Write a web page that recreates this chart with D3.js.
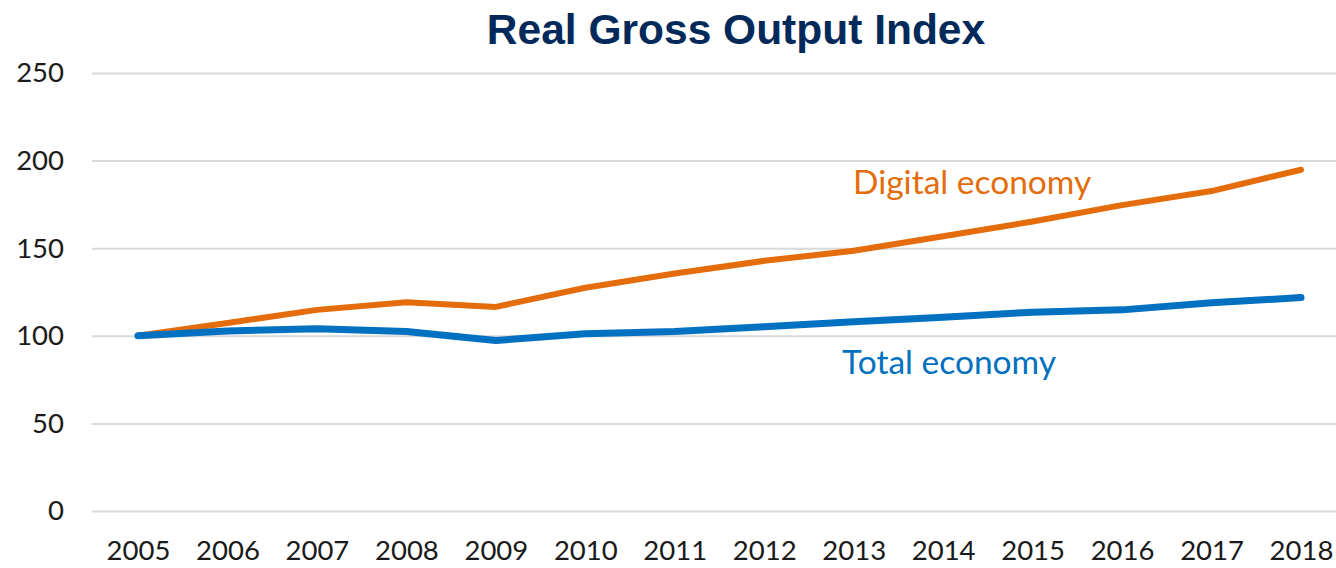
<!DOCTYPE html>
<html lang="en">
<head>
<meta charset="UTF-8">
<title>Real Gross Output Index</title>
<script src="https://d3js.org/d3.v7.min.js"></script>
<style>
    body { margin: 0; background: #fff; }
    .tick text { font-family: Lato, "Open Sans", sans-serif; font-size: 27.5px; fill: #1a1a1a; }
    .title { font-family: "Liberation Sans", Arial, sans-serif; font-weight: bold; font-size: 42.5px; fill: #012a5b; }
    .series-label { font-family: Lato, "Open Sans", sans-serif; font-size: 33.5px; }
</style>
</head>
<body>
<svg width="1336" height="568"></svg>
<script>
const years = [2005, 2006, 2007, 2008, 2009, 2010, 2011, 2012, 2013, 2014, 2015, 2016, 2017, 2018];
const digitalEconomy = [100, 107.3, 114.8, 119.2, 116.5, 127.4, 135.6, 142.8, 148.5, 156.8, 165.2, 174.6, 182.6, 194.8];
const totalEconomy = [100, 102.8, 104.0, 102.4, 97.3, 101.2, 102.4, 105.2, 108.0, 110.6, 113.5, 114.8, 118.8, 121.8];
const yTicks = [0, 50, 100, 150, 200, 250];

const svg = d3.select("svg");
const margin = { left: 92 };
const width = 1336;

const x = d3.scalePoint()
    .domain(years)
    .range([138, 1301]);

const y = d3.scaleLinear()
    .domain([0, 250])
    .range([511, 73]);

// gridlines + y labels
const yAxis = svg.append("g")
    .attr("transform", `translate(${margin.left},0)`)
    .call(d3.axisLeft(y).tickValues(yTicks).tickSize(-(width - margin.left)).tickPadding(28));
yAxis.select(".domain").remove();
yAxis.selectAll(".tick line").attr("stroke", "#d9d9d9").attr("stroke-width", 2);

const xAxis = svg.append("g")
    .attr("transform", `translate(0,511)`)
    .call(d3.axisBottom(x).tickSize(0).tickPadding(29));
xAxis.select(".domain").remove();

const line = d3.line()
    .x((d, i) => x(years[i]))
    .y(d => y(d));

svg.append("path")
    .datum(digitalEconomy)
    .attr("fill", "none")
    .attr("stroke", "#e46c0a")
    .attr("stroke-width", 6)
    .attr("stroke-linecap", "round")
    .attr("stroke-linejoin", "round")
    .attr("d", line);

svg.append("path")
    .datum(totalEconomy)
    .attr("fill", "none")
    .attr("stroke", "#0070c0")
    .attr("stroke-width", 7)
    .attr("stroke-linecap", "round")
    .attr("stroke-linejoin", "round")
    .attr("d", line);

svg.append("text")
    .attr("class", "title")
    .attr("x", 736)
    .attr("y", 44)
    .attr("text-anchor", "middle")
    .text("Real Gross Output Index");

svg.append("text")
    .attr("class", "series-label")
    .attr("x", 853)
    .attr("y", 194)
    .attr("fill", "#e46c0a")
    .text("Digital economy");

svg.append("text")
    .attr("class", "series-label")
    .attr("x", 842)
    .attr("y", 374)
    .attr("fill", "#0070c0")
    .text("Total economy");
</script>
</body>
</html>
